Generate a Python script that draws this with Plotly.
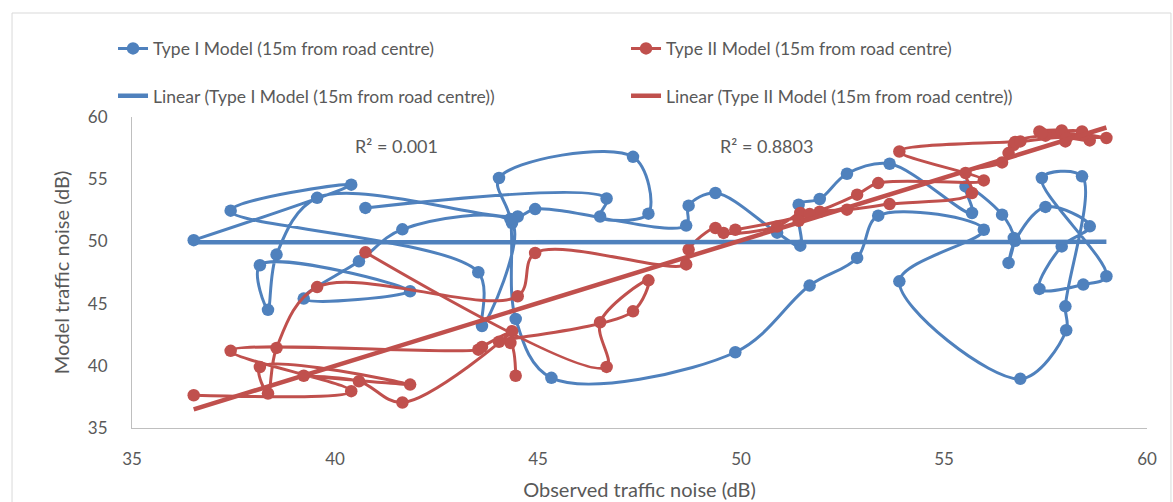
import numpy as np
import plotly.graph_objects as go

# Observed noise at each site (dB) and the two model predictions, in survey order
observed = [36.52, 40.40, 37.43, 43.53, 43.62, 44.36, 41.66, 40.59, 39.23, 41.85,
            38.15, 38.35, 38.56, 39.56, 44.50, 44.93, 48.65, 48.71, 49.37, 49.57,
            50.89, 51.46, 51.42, 51.94, 52.61, 53.66, 55.69, 55.53, 56.43, 56.72,
            56.59, 56.75, 57.50, 58.59, 57.90, 57.35, 58.43, 59.00, 57.41, 58.40,
            57.99, 58.01, 56.88, 53.90, 55.98, 53.38, 52.86, 51.69, 49.86, 45.33,
            44.45, 44.32, 44.04, 47.34, 47.72, 46.53, 46.69, 40.75]

type1_model = [50.10, 54.56, 52.47, 47.52, 43.20, 51.48, 50.97, 48.40, 45.40, 45.99,
               48.08, 44.50, 48.94, 53.50, 52.00, 52.60, 51.27, 52.87, 53.89, None,
               50.70, 49.66, 52.95, 53.41, 55.44, 56.24, 52.28, 54.42, 52.15, 50.28,
               48.27, 50.05, 52.77, 51.21, 49.60, 46.18, 46.53, 47.20, 55.10, 55.23,
               44.78, 42.86, 38.95, 46.79, 50.94, 52.07, 48.67, 46.45, 41.09, 39.03,
               43.77, 51.80, 55.10, 56.80, 52.23, 52.00, 53.45, 52.69]

type2_model = [37.63, 37.96, 41.20, 41.30, 41.52, 42.78, 37.05, 38.76, 39.20, 38.49,
               39.90, 37.77, 41.44, 46.33, 45.59, 49.07, 48.15, 49.34, 51.08, 50.68,
               51.20, 52.28, 51.65, 52.38, 52.55, 53.00, 53.89, 55.50, 56.35, 57.77,
               57.10, 57.99, 58.50, 58.12, 58.92, 58.84, 58.60, 58.31, 58.70, 58.84,
               58.04, 58.30, 58.04, 57.23, 54.90, 54.69, 53.76, 52.20, 50.94, None,
               39.20, 41.84, 41.93, 44.38, 46.87, 43.50, 39.91, 49.12]

series_names = ["Type I Model (15m from road centre)",
                "Type II Model (15m from road centre)"]
r_squared_labels = ["R\u00b2 = 0.001", "R\u00b2 = 0.8803"]

BLUE = "#4F81BD"
RED = "#C0504D"
GREY_TEXT = "#595959"
FONT = "Lato"


def linear_trend(x, y):
    xa = np.asarray(x, dtype=float)
    ya = np.array([np.nan if v is None else v for v in y], dtype=float)
    ok = ~np.isnan(ya)
    slope, intercept = np.polyfit(xa[ok], ya[ok], 1)
    xs = np.array([xa[ok].min(), xa[ok].max()])
    return xs, slope * xs + intercept


fig = go.Figure()

# Type I skips its missing reading; Type II leaves a gap at its blank cell
for values, name, colour, bridge in [(type1_model, series_names[0], BLUE, True),
                                     (type2_model, series_names[1], RED, False)]:
    fig.add_trace(go.Scatter(
        x=observed, y=values, name=name, mode="lines+markers",
        connectgaps=bridge,
        line=dict(color=colour, width=3, shape="spline", smoothing=1.0),
        marker=dict(color=colour, size=12.5),
        legend="legend",
    ))

for values, name, colour in [(type1_model, series_names[0], BLUE),
                             (type2_model, series_names[1], RED)]:
    tx, ty = linear_trend(observed, values)
    fig.add_trace(go.Scatter(
        x=tx, y=ty, name=f"Linear ({name})", mode="lines",
        line=dict(color=colour, width=4.5),
        legend="legend2",
    ))

# x < 0 lets a horizontal legend above the plot use the left margin as well
legend_common = dict(
    orientation="h", x=-0.0187, xanchor="left", yanchor="middle",
    entrywidth=468, entrywidthmode="pixels",
    font=dict(family=FONT, size=17.5, color=GREY_TEXT),
    bgcolor="rgba(0,0,0,0)", itemclick=False,
)

fig.update_layout(
    width=1173, height=502,
    margin=dict(l=132, r=26, t=117, b=74),
    paper_bgcolor="white", plot_bgcolor="white",
    font=dict(family=FONT, color=GREY_TEXT),
    legend=dict(y=1.22, **legend_common),
    legend2=dict(y=1.068, **legend_common),
    xaxis=dict(
        range=[35, 60], dtick=5, tick0=35, showgrid=False, zeroline=False,
        showline=True, linecolor="#BFBFBF", linewidth=1, ticks="",
        ticklabelstandoff=16, automargin=False,
        tickfont=dict(family=FONT, size=17, color=GREY_TEXT),
        title=dict(text="Observed traffic noise (dB)", standoff=14,
                   font=dict(family=FONT, size=20, color=GREY_TEXT)),
    ),
    yaxis=dict(
        range=[35, 60], dtick=5, tick0=35, showgrid=False, zeroline=False,
        showline=True, linecolor="#BFBFBF", linewidth=1, ticks="",
        ticklabelstandoff=20, automargin=False,
        tickfont=dict(family=FONT, size=17, color=GREY_TEXT),
        title=dict(text="Model traffic noise (dB)", standoff=12,
                   font=dict(family=FONT, size=20, color=GREY_TEXT)),
    ),
    annotations=[
        dict(text=r_squared_labels[0], x=0.2177, y=0.949, xref="paper", yref="paper",
             showarrow=False, font=dict(family=FONT, size=18, color=GREY_TEXT)),
        dict(text=r_squared_labels[1], x=0.6256, y=0.949, xref="paper", yref="paper",
             showarrow=False, font=dict(family=FONT, size=18, color=GREY_TEXT)),
    ],
    shapes=[
        dict(type="rect", xref="paper", yref="paper",
             x0=-0.1182, x1=1.0236, y0=-0.27, y1=1.3344,
             line=dict(color="#D9D9D9", width=1), fillcolor="rgba(0,0,0,0)",
             layer="below"),
    ],
)

fig.write_html("out.html")
